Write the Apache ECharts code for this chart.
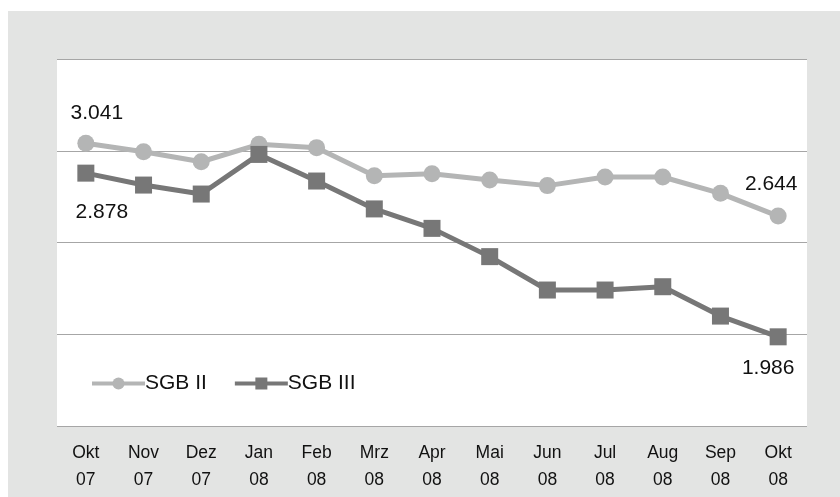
<!DOCTYPE html>
<html>
<head>
<meta charset="utf-8">
<script src="https://cdn.jsdelivr.net/npm/echarts@6/dist/echarts.min.js"></script>
<style>
  html, body { margin: 0; padding: 0; background: #ffffff; }
  #wrap { position: relative; width: 840px; height: 497px; overflow: hidden; }
  #panel { position: absolute; left: 8px; top: 11px; width: 832px; height: 486px; background: #e3e4e3; }
  #chart { position: absolute; left: 0; top: 0; width: 840px; height: 497px; }
</style>
</head>
<body>
<div id="wrap">
  <div id="panel"></div>
  <div id="chart"></div>
</div>
<script>
const categories = ['Okt\n07', 'Nov\n07', 'Dez\n07', 'Jan\n08', 'Feb\n08', 'Mrz\n08', 'Apr\n08', 'Mai\n08', 'Jun\n08', 'Jul\n08', 'Aug\n08', 'Sep\n08', 'Okt\n08'];
const sgb2 = [3041, 2995, 2940, 3035, 3017, 2864, 2875, 2841, 2810, 2857, 2857, 2768, 2644];
const sgb3 = [2878, 2813, 2764, 2980, 2835, 2683, 2577, 2423, 2241, 2241, 2259, 2099, 1986];
const yTicks = { min: 1500, max: 3500, interval: 500 };

const fmt = v => Math.floor(v / 1000) + '.' + String(v % 1000).padStart(3, '0');
const FONT = "'Liberation Sans', Arial, sans-serif";

function withLabels(values, firstLabel, lastLabel) {
  return values.map((v, i) => {
    if (i === 0) return { value: v, label: Object.assign({ show: true }, firstLabel) };
    if (i === values.length - 1) return { value: v, label: Object.assign({ show: true }, lastLabel) };
    return v;
  });
}

const labelBase = { color: '#111', fontSize: 21, fontFamily: FONT, formatter: p => fmt(p.value) };

const chart = echarts.init(document.getElementById('chart'), null, { renderer: 'canvas' });
chart.setOption({
  animation: false,
  backgroundColor: 'transparent',
  grid: { left: 57, right: 33, top: 59, bottom: 71, show: true, backgroundColor: '#ffffff', borderWidth: 0 },
  legend: {
    left: 90, top: 373, padding: 0,
    itemWidth: 53, itemHeight: 15, itemGap: 26,
    lineStyle: { width: 4 },
    textStyle: { color: '#111', fontSize: 21, fontFamily: FONT, padding: [0, 0, 0, -5] },
    data: ['SGB II', 'SGB III']
  },
  xAxis: {
    type: 'category',
    data: categories,
    boundaryGap: true,
    axisLine: { show: false },
    axisTick: { show: false },
    axisLabel: { color: '#111', fontSize: 17.5, fontFamily: FONT, lineHeight: 27, margin: 14, interval: 0 }
  },
  yAxis: {
    type: 'value',
    min: yTicks.min, max: yTicks.max, interval: yTicks.interval,
    axisLine: { show: false }, axisTick: { show: false }, axisLabel: { show: false },
    splitLine: { show: true, lineStyle: { color: '#a6a6a6', width: 1 } }
  },
  series: [
    {
      name: 'SGB II', type: 'line',
      data: withLabels(sgb2,
        Object.assign({}, labelBase, { position: 'top', offset: [11, -6] }),
        Object.assign({}, labelBase, { position: 'top', offset: [-7, -8] })),
      symbol: 'circle', symbolSize: 17,
      lineStyle: { color: '#b4b5b5', width: 5 },
      itemStyle: { color: '#b4b5b5' },
      z: 2
    },
    {
      name: 'SGB III', type: 'line',
      data: withLabels(sgb3,
        Object.assign({}, labelBase, { position: 'bottom', offset: [16, 15] }),
        Object.assign({}, labelBase, { position: 'bottom', offset: [-10, 7] })),
      symbol: 'rect', symbolSize: 17,
      lineStyle: { color: '#777777', width: 5 },
      itemStyle: { color: '#777777' },
      z: 3
    }
  ]
});
</script>
</body>
</html>
